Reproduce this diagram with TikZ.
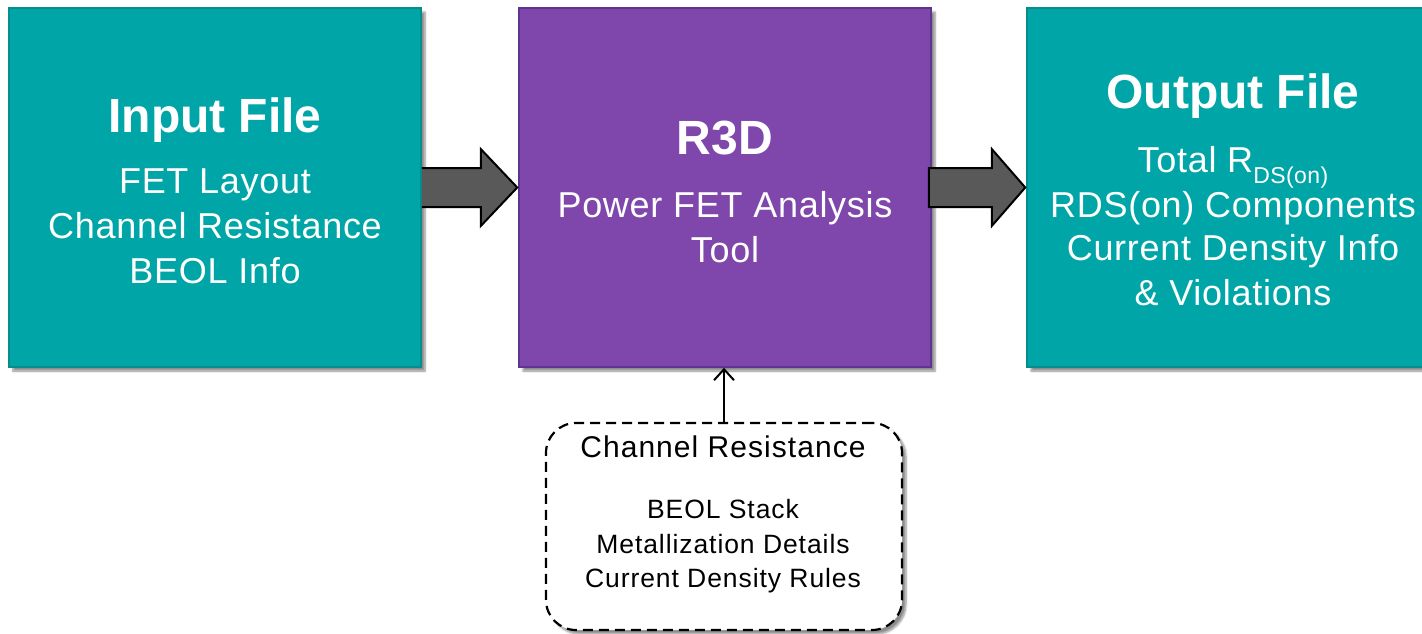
\documentclass[tikz,border=0pt]{standalone}
\usepackage{fontspec}
\setmainfont{Liberation Sans}
\newfontfamily\bodyfont[LetterSpace=2]{Liberation Sans}
\newfontfamily\smallfont[LetterSpace=3.5]{Liberation Sans}
\usetikzlibrary{calc,arrows.meta,shadows.blur}
\definecolor{tealfill}{HTML}{00A6A7}
\definecolor{tealline}{HTML}{078C8C}
\definecolor{purfill}{HTML}{7F47AC}
\definecolor{purline}{HTML}{5F3390}
\definecolor{arrfill}{HTML}{595959}
\tikzset{
  box/.style={rectangle, minimum width=412, minimum height=359, inner sep=0, line width=1.5pt,
    blur shadow={shadow xshift=4pt, shadow yshift=-4pt, shadow blur steps=6, shadow opacity=45}},
  tealbox/.style={box, fill=tealfill, draw=tealline},
  purbox/.style={box, fill=purfill, draw=purline},
  title/.style={anchor=base, text=white, font=\fontsize{48}{56}\selectfont\bfseries, inner sep=0},
  body/.style={anchor=base, text=white, font=\bodyfont\fontsize{36}{45}\selectfont, inner sep=0},
  small/.style={anchor=base, text=black, font=\smallfont\fontsize{26.5}{35}\selectfont, inner sep=0},
  mid/.style={anchor=base, text=black, font=\smallfont\fontsize{30}{35}\selectfont, inner sep=0},
  blockarr/.style={fill=arrfill, draw=black, line width=2pt, line join=miter},
  dashbox/.style={rectangle, rounded corners=30, minimum width=356, minimum height=207, inner sep=0,
    draw=black, fill=white, line width=2.2pt, dash pattern=on 10pt off 6pt,
    blur shadow={shadow xshift=4pt, shadow yshift=-4pt, shadow blur steps=6, shadow opacity=45}},
  thinarr/.style={draw=black, line width=2pt, -{Straight Barb[length=11pt, width=20pt, line width=2pt]}}
}
\begin{document}
\begin{tikzpicture}[x=1pt, y=-1pt]
\useasboundingbox (0,0) rectangle (1422,633);
\begin{scope}
\clip (0,0) rectangle (1422,633);
\node[tealbox] (in) at (215,187.5) {};
\node[purbox] (r3d) at (725,187.5) {};
\node[tealbox] (out) at (1233,187.5) {};
\node[dashbox] (cr) at (724,526.5) {};
\end{scope}

% texts
\node[title] (t1) at (215,132) {Input File};
\node[body] (b11) at (215,193) {FET Layout};
\node[body] (b12) at (215,238) {Channel Resistance};
\node[body] (b13) at (215,283) {BEOL Info};

\node[title] (t2) at (725,154) {R3D};
\node[body] (b21) at (725,217) {Power FET Analysis};
\node[body] (b22) at (725,262) {Tool};

\node[title] (t3) at (1233,108) {Output File};
\node[body] (b31) at (1233,172) {Total R\raisebox{-11pt}{\fontsize{23}{25}\selectfont DS(on)}};
\node[body] (b32) at (1233,217) {RDS(on) Components};
\node[body] (b33) at (1233,260) {Current Density Info};
\node[body] (b34) at (1233,305) {\& Violations};

\node[mid] (c1) at (723,457) {Channel Resistance};
\node[small] (c2) at (723,518) {BEOL Stack};
\node[small] (c3) at (723,553) {Metallization Details};
\node[small] (c4) at (723,587) {Current Density Rules};

% block arrows
\draw[blockarr] ($(in.east)+(0,-19.5)$) -- ($(in.east)+(59,-19.5)$) -- ($(in.east)+(59,-38.5)$)
  -- ($(r3d.west)+(-1,0)$) -- ($(in.east)+(59,38.5)$) -- ($(in.east)+(59,19.5)$) -- ($(in.east)+(0,19.5)$);
\draw[blockarr] ($(r3d.east)+(-3,-19.5)$) -- ($(r3d.east)+(60,-19.5)$) -- ($(r3d.east)+(60,-38.5)$)
  -- ($(out.west)+(-1,0)$) -- ($(r3d.east)+(60,38.5)$) -- ($(r3d.east)+(60,19.5)$) -- ($(r3d.east)+(-3,19.5)$) -- cycle;

% thin arrow
\draw[thinarr] (cr.north) -- (cr.north |- r3d.south);
\end{tikzpicture}
\end{document}
